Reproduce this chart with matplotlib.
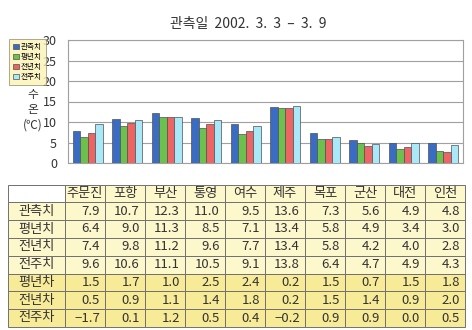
import matplotlib
matplotlib.use("Agg")
import matplotlib.pyplot as plt
import numpy as np
from matplotlib.patches import Rectangle

plt.rcParams['font.family'] = ['Noto Sans CJK KR', 'DejaVu Sans']

stations = ["주문진", "포항", "부산", "통영", "여수", "제주", "목포", "군산", "대전", "인천"]
obs = [7.9, 10.7, 12.3, 11.0, 9.5, 13.6, 7.3, 5.6, 4.9, 4.8]
normal = [6.4, 9.0, 11.3, 8.5, 7.1, 13.4, 5.8, 4.9, 3.4, 3.0]
lastyear = [7.4, 9.8, 11.2, 9.6, 7.7, 13.4, 5.8, 4.2, 4.0, 2.8]
lastweek = [9.6, 10.6, 11.1, 10.5, 9.1, 13.8, 6.4, 4.7, 4.9, 4.3]
diff_normal = [1.5, 1.7, 1.0, 2.5, 2.4, 0.2, 1.5, 0.7, 1.5, 1.8]
diff_lastyear = [0.5, 0.9, 1.1, 1.4, 1.8, 0.2, 1.5, 1.4, 0.9, 2.0]
diff_lastweek = [-1.7, 0.1, 1.2, 0.5, 0.4, -0.2, 0.9, 0.9, 0.0, 0.5]
series_names = ["관측치", "평년치", "전년치", "전주치"]
diff_names = ["평년차", "전년차", "전주차"]
yticks = [0, 5, 10, 15, 20, 25, 30]

W, H = 472, 330
fig = plt.figure(figsize=(W / 100, H / 100), dpi=100)
fig.patch.set_facecolor("white")

def fx(px):
    return px / W

def fy(py):
    return 1 - py / H

# Chart axes
ax = fig.add_axes([fx(68), fy(163), fx(463) - fx(68), fy(40) - fy(163)])
colors = ["#3b6cc4", "#6cc04e", "#ec6464", "#a8e8f8"]
series = [obs, normal, lastyear, lastweek]
x = np.arange(len(stations))
bw = 0.19
for i, (vals, c, name) in enumerate(zip(series, colors, series_names)):
    ax.bar(x + (i - 1.5) * bw, vals, bw, color=c, edgecolor="#505050",
           linewidth=0.5, label=name, zorder=3)
ax.set_xlim(-0.5, len(stations) - 0.5)
ax.set_ylim(0, 30)
ax.set_yticks(yticks)
ax.set_yticklabels([str(t) for t in yticks], fontsize=9, color="#333333")
ax.set_xticks([])
ax.tick_params(axis="y", length=0, pad=8)
ax.grid(axis="y", color="#a0a0a0", linewidth=0.8, zorder=0)
for s in ax.spines.values():
    s.set_color("#a0a0a0")
    s.set_linewidth(0.8)

fig.text(fx(248), fy(24), "관측일  2002.  3.  3  –  3.  9", ha="center", va="center",
         fontsize=10, color="#333333")
fig.text(fx(33), fy(110), "수\n온\n(℃)", ha="center", va="center", fontsize=8.5,
         color="#333333", linespacing=1.2)

leg = fig.legend(loc="upper left", bbox_to_anchor=(fx(11), fy(41)), fontsize=5.5,
                 frameon=True, handlelength=0.7, handleheight=0.7, handletextpad=0.3,
                 borderpad=0.3, labelspacing=0.25, borderaxespad=0)
leg.get_frame().set_facecolor("#fbf2b4")
leg.get_frame().set_edgecolor("#908060")
leg.get_frame().set_linewidth(0.6)
leg.get_frame().set_boxstyle("square", pad=0.2)

# Table
tax = fig.add_axes([0, 0, 1, 1])
tax.set_xlim(0, W)
tax.set_ylim(H, 0)
tax.axis("off")

left, first_w, col_w = 8, 57, 40
top, row_h = 184.5, 17.8
rows = [(n, v) for n, v in zip(series_names, series)] + \
       [(n, v) for n, v in zip(diff_names, [diff_normal, diff_lastyear, diff_lastweek])]
light = "#fdf7cc"
dark = "#f7eb98"
edge = "#707070"
fs = 9.5
# header
tax.add_patch(Rectangle((left, top), first_w, row_h, facecolor="white", edgecolor=edge, lw=0.7))
for j, st in enumerate(stations):
    x0 = left + first_w + j * col_w
    tax.add_patch(Rectangle((x0, top), col_w, row_h, facecolor=light, edgecolor=edge, lw=0.7))
    tax.text(x0 + col_w / 2, top + row_h / 2, st, ha="center", va="center", fontsize=fs, color="#333333")
for i, (name, vals) in enumerate(rows):
    y0 = top + (i + 1) * row_h
    fc = light if i < 4 else dark
    tax.add_patch(Rectangle((left, y0), first_w, row_h, facecolor=fc, edgecolor=edge, lw=0.7))
    tax.text(left + first_w / 2, y0 + row_h / 2, name, ha="center", va="center", fontsize=fs, color="#333333")
    for j, v in enumerate(vals):
        x0 = left + first_w + j * col_w
        tax.add_patch(Rectangle((x0, y0), col_w, row_h, facecolor=fc, edgecolor=edge, lw=0.7))
        tax.text(x0 + col_w - 5, y0 + row_h / 2, f"{v:.1f}".replace("-", "−"), ha="right", va="center",
                 fontsize=fs, color="#333333")

fig.savefig("out.png", dpi=100)
